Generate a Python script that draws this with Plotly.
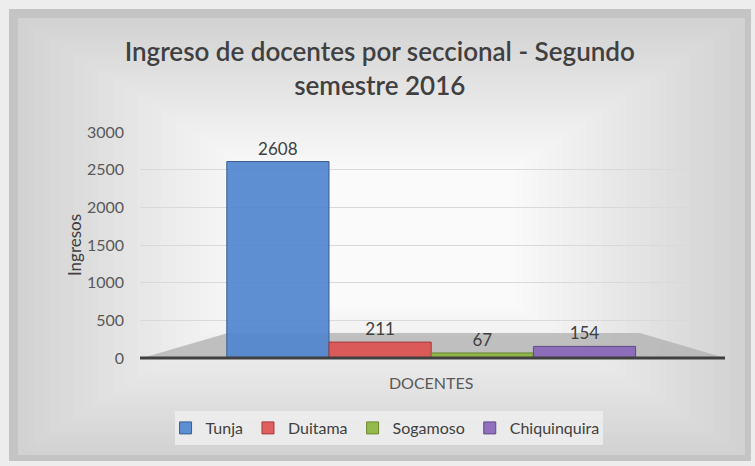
import plotly.graph_objects as go

categories = ["DOCENTES"]
series_names = ["Tunja", "Duitama", "Sogamoso", "Chiquinquira"]
series_values = [2608, 211, 67, 154]
series_colors = ["rgba(79,134,206,0.92)", "rgba(222,76,76,0.88)", "rgba(140,180,60,0.9)", "rgba(135,100,185,0.9)"]
line_colors = ["#3a5f8f", "#a33a3a", "#6a8a2e", "#5f4a87"]
y_ticks = [0, 500, 1000, 1500, 2000, 2500, 3000]

W, H = 755, 466
L, R, T, B = 140, 55, 132, 108
pw, ph = W - L - R, H - T - B

def px_x(x):
    return (x - L) / pw

def px_y(y):
    return (H - B - y) / ph

FONT = "Lato, Open Sans, sans-serif"

fig = go.Figure()
for name, val, col, lc in zip(series_names, series_values, series_colors, line_colors):
    fig.add_trace(go.Bar(
        x=categories, y=[val], name=name,
        marker=dict(color=col, line=dict(color=lc, width=1)),
        text=[str(val)], textposition="outside",
        textfont=dict(size=17, color="#404040", family=FONT),
        cliponaxis=False,
    ))

shapes = []
# outer shadow frame
shapes.append(dict(type="rect", xref="paper", yref="paper",
                   x0=px_x(9), x1=px_x(751), y0=px_y(461), y1=px_y(9),
                   fillcolor="#c4c4c4", line=dict(width=0), layer="below"))
# gradient-like background via concentric rectangles
n = 30
for i in range(n):
    t = i / (n - 1)
    g = int(round(210 + (250 - 210) * t))
    x0 = 18 + t * 230
    x1 = 745 - t * 230
    y0 = 18 + t * 150
    y1 = 455 - t * 150
    shapes.append(dict(type="rect", xref="paper", yref="paper",
                       x0=px_x(x0), x1=px_x(x1), y0=px_y(y1), y1=px_y(y0),
                       fillcolor=f"rgb({g},{g},{g})", line=dict(width=0), layer="below"))
# legend background
shapes.append(dict(type="rect", xref="paper", yref="paper",
                   x0=px_x(175), x1=px_x(603), y0=px_y(445), y1=px_y(411),
                   fillcolor="rgba(236,236,236,0.95)", line=dict(width=0), layer="below"))
# floor
shapes.append(dict(type="path", xref="paper", yref="paper",
                   path=f"M {px_x(142)},{px_y(358)} L {px_x(228)},{px_y(333)} L {px_x(640)},{px_y(333)} L {px_x(725)},{px_y(358)} Z",
                   fillcolor="rgba(175,175,175,0.75)", line=dict(width=0), layer="below"))
# baseline
shapes.append(dict(type="line", xref="paper", yref="paper",
                   x0=px_x(140), x1=px_x(725), y0=0, y1=0,
                   line=dict(color="#404040", width=3), layer="above"))

fig.update_layout(
    width=W, height=H,
    margin=dict(l=L, r=R, t=T, b=B),
    paper_bgcolor="#ededed",
    plot_bgcolor="rgba(0,0,0,0)",
    font=dict(family=FONT, color="#595959"),
    title=dict(text="Ingreso de docentes por seccional - Segundo<br>semestre 2016",
               x=0.503, xanchor="center", xref="container",
               y=1 - 61 / H, yanchor="middle", yref="container",
               font=dict(size=26, color="#404040", family=FONT, weight=600)),
    barmode="group",
    bargap=0.27,
    bargroupgap=0,
    xaxis=dict(range=[-0.52, 0.48], showgrid=False, showline=False, zeroline=False,
               tickfont=dict(size=16, color="#595959"), ticks="", ticklabelstandoff=14),
    yaxis=dict(range=[0, 3000], tickvals=y_ticks, showgrid=True, gridcolor="#d9d9d9",
               gridwidth=1, zeroline=False, showline=False,
               tickfont=dict(size=16, color="#595959"), ticks="", ticklabelstandoff=15,
               title=dict(text="Ingresos", font=dict(size=17, color="#404040"), standoff=0)),
    showlegend=True,
    legend=dict(orientation="h", x=0.51, xanchor="center", xref="container",
                y=1 - 428 / H, yanchor="middle", yref="container",
                bgcolor="rgba(0,0,0,0)", font=dict(size=16, color="#404040"),
                itemwidth=30, tracegroupgap=0),
    shapes=shapes,
)

fig.write_html("out.html", config={"displayModeBar": False},
               post_script="document.body.style.margin='0px';")
